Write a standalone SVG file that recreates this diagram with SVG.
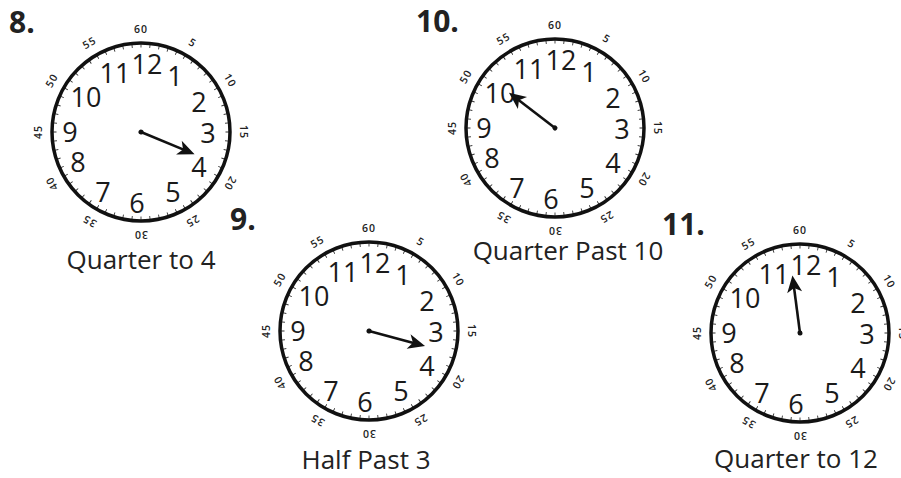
<svg xmlns="http://www.w3.org/2000/svg" xmlns:xlink="http://www.w3.org/1999/xlink" width="901" height="478" viewBox="0 0 901 478">
<style>
.rim{fill:none;stroke:#111;stroke-width:3.5}
.ticks{fill:none;stroke:#333;stroke-width:4;stroke-dasharray:0.1 0.9;stroke-dashoffset:0.05}
.num{font-family:"Open Sans","Noto Sans",sans-serif;font-size:27px;fill:#1a1a1a;text-anchor:middle}
.min{font-family:"Open Sans","Noto Sans",sans-serif;font-size:10.5px;font-weight:600;fill:#222;text-anchor:middle;letter-spacing:1px}
.head{font-family:"Open Sans","Liberation Sans",sans-serif;font-weight:bold;font-size:30px;fill:#222}
.cap{font-family:"Open Sans","Noto Sans",sans-serif;font-size:26px;fill:#222;text-anchor:middle}
.hand{stroke:#111;stroke-width:2.6}
</style>
<defs>
<g id="hand"><line class="hand" x1="0" y1="0" x2="0" y2="-48"/><path d="M0,-58 L-7.5,-41 L0,-45.5 L7.5,-41 Z" fill="#111"/><circle r="2.5" fill="#111"/></g>
</defs>
<rect width="901" height="478" fill="#fff"/>

<g id="clock-8">
<text class="head" x="9" y="33">8.</text>
<g transform="translate(141,132)">
<circle class="ticks" r="86.5" pathLength="60"/>
<circle class="rim" r="89"/>
<text class="min" transform="rotate(0) translate(0,-103)" dy="0.35em">60</text>
<text class="min" transform="rotate(30) translate(0,-103)" dy="0.35em">5</text>
<text class="min" transform="rotate(60) translate(0,-103)" dy="0.35em">10</text>
<text class="min" transform="rotate(90) translate(0,-103)" dy="0.35em">15</text>
<text class="min" transform="rotate(120) translate(0,-103)" dy="0.35em">20</text>
<text class="min" transform="rotate(150) translate(0,-103)" dy="0.35em">25</text>
<text class="min" transform="rotate(180) translate(0,-103)" dy="0.35em">30</text>
<text class="min" transform="rotate(210) translate(0,-103)" dy="0.35em">35</text>
<text class="min" transform="rotate(240) translate(0,-103)" dy="0.35em">40</text>
<text class="min" transform="rotate(270) translate(0,-103)" dy="0.35em">45</text>
<text class="min" transform="rotate(300) translate(0,-103)" dy="0.35em">50</text>
<text class="min" transform="rotate(330) translate(0,-103)" dy="0.35em">55</text>
<text class="num" x="34" y="-46">1</text>
<text class="num" x="58" y="-20">2</text>
<text class="num" x="67" y="11">3</text>
<text class="num" x="58" y="45">4</text>
<text class="num" x="32" y="70">5</text>
<text class="num" x="-4" y="81">6</text>
<text class="num" x="-38" y="70">7</text>
<text class="num" x="-63" y="40">8</text>
<text class="num" x="-71" y="10">9</text>
<text class="num" x="-55" y="-25">10</text>
<text class="num" x="-26" y="-49">11</text>
<text class="num" x="6" y="-58">12</text>
<use xlink:href="#hand" href="#hand" transform="rotate(112.5)"/>
</g>
<text class="cap" x="141" y="269">Quarter to 4</text>
</g>

<g id="clock-10">
<text class="head" x="416" y="32">10.</text>
<g transform="translate(555,128)">
<circle class="ticks" r="86.5" pathLength="60"/>
<circle class="rim" r="89"/>
<text class="min" transform="rotate(0) translate(0,-103)" dy="0.35em">60</text>
<text class="min" transform="rotate(30) translate(0,-103)" dy="0.35em">5</text>
<text class="min" transform="rotate(60) translate(0,-103)" dy="0.35em">10</text>
<text class="min" transform="rotate(90) translate(0,-103)" dy="0.35em">15</text>
<text class="min" transform="rotate(120) translate(0,-103)" dy="0.35em">20</text>
<text class="min" transform="rotate(150) translate(0,-103)" dy="0.35em">25</text>
<text class="min" transform="rotate(180) translate(0,-103)" dy="0.35em">30</text>
<text class="min" transform="rotate(210) translate(0,-103)" dy="0.35em">35</text>
<text class="min" transform="rotate(240) translate(0,-103)" dy="0.35em">40</text>
<text class="min" transform="rotate(270) translate(0,-103)" dy="0.35em">45</text>
<text class="min" transform="rotate(300) translate(0,-103)" dy="0.35em">50</text>
<text class="min" transform="rotate(330) translate(0,-103)" dy="0.35em">55</text>
<text class="num" x="34" y="-46">1</text>
<text class="num" x="58" y="-20">2</text>
<text class="num" x="67" y="11">3</text>
<text class="num" x="58" y="45">4</text>
<text class="num" x="32" y="70">5</text>
<text class="num" x="-4" y="81">6</text>
<text class="num" x="-38" y="70">7</text>
<text class="num" x="-63" y="40">8</text>
<text class="num" x="-71" y="10">9</text>
<text class="num" x="-55" y="-25">10</text>
<text class="num" x="-26" y="-49">11</text>
<text class="num" x="6" y="-58">12</text>
<use xlink:href="#hand" href="#hand" transform="rotate(307.5)"/>
</g>
<text class="cap" x="568" y="260">Quarter Past 10</text>
</g>

<g id="clock-9">
<text class="head" x="230" y="230">9.</text>
<g transform="translate(369,331)">
<circle class="ticks" r="86.5" pathLength="60"/>
<circle class="rim" r="89"/>
<text class="min" transform="rotate(0) translate(0,-103)" dy="0.35em">60</text>
<text class="min" transform="rotate(30) translate(0,-103)" dy="0.35em">5</text>
<text class="min" transform="rotate(60) translate(0,-103)" dy="0.35em">10</text>
<text class="min" transform="rotate(90) translate(0,-103)" dy="0.35em">15</text>
<text class="min" transform="rotate(120) translate(0,-103)" dy="0.35em">20</text>
<text class="min" transform="rotate(150) translate(0,-103)" dy="0.35em">25</text>
<text class="min" transform="rotate(180) translate(0,-103)" dy="0.35em">30</text>
<text class="min" transform="rotate(210) translate(0,-103)" dy="0.35em">35</text>
<text class="min" transform="rotate(240) translate(0,-103)" dy="0.35em">40</text>
<text class="min" transform="rotate(270) translate(0,-103)" dy="0.35em">45</text>
<text class="min" transform="rotate(300) translate(0,-103)" dy="0.35em">50</text>
<text class="min" transform="rotate(330) translate(0,-103)" dy="0.35em">55</text>
<text class="num" x="34" y="-46">1</text>
<text class="num" x="58" y="-20">2</text>
<text class="num" x="67" y="11">3</text>
<text class="num" x="58" y="45">4</text>
<text class="num" x="32" y="70">5</text>
<text class="num" x="-4" y="81">6</text>
<text class="num" x="-38" y="70">7</text>
<text class="num" x="-63" y="40">8</text>
<text class="num" x="-71" y="10">9</text>
<text class="num" x="-55" y="-25">10</text>
<text class="num" x="-26" y="-49">11</text>
<text class="num" x="6" y="-58">12</text>
<use xlink:href="#hand" href="#hand" transform="rotate(105)"/>
</g>
<text class="cap" x="366" y="469">Half Past 3</text>
</g>

<g id="clock-11">
<text class="head" x="662" y="235">11.</text>
<g transform="translate(800,333)">
<circle class="ticks" r="86.5" pathLength="60"/>
<circle class="rim" r="89"/>
<text class="min" transform="rotate(0) translate(0,-103)" dy="0.35em">60</text>
<text class="min" transform="rotate(30) translate(0,-103)" dy="0.35em">5</text>
<text class="min" transform="rotate(60) translate(0,-103)" dy="0.35em">10</text>
<text class="min" transform="rotate(90) translate(0,-103)" dy="0.35em">15</text>
<text class="min" transform="rotate(120) translate(0,-103)" dy="0.35em">20</text>
<text class="min" transform="rotate(150) translate(0,-103)" dy="0.35em">25</text>
<text class="min" transform="rotate(180) translate(0,-103)" dy="0.35em">30</text>
<text class="min" transform="rotate(210) translate(0,-103)" dy="0.35em">35</text>
<text class="min" transform="rotate(240) translate(0,-103)" dy="0.35em">40</text>
<text class="min" transform="rotate(270) translate(0,-103)" dy="0.35em">45</text>
<text class="min" transform="rotate(300) translate(0,-103)" dy="0.35em">50</text>
<text class="min" transform="rotate(330) translate(0,-103)" dy="0.35em">55</text>
<text class="num" x="34" y="-46">1</text>
<text class="num" x="58" y="-20">2</text>
<text class="num" x="67" y="11">3</text>
<text class="num" x="58" y="45">4</text>
<text class="num" x="32" y="70">5</text>
<text class="num" x="-4" y="81">6</text>
<text class="num" x="-38" y="70">7</text>
<text class="num" x="-63" y="40">8</text>
<text class="num" x="-71" y="10">9</text>
<text class="num" x="-55" y="-25">10</text>
<text class="num" x="-26" y="-49">11</text>
<text class="num" x="6" y="-58">12</text>
<use xlink:href="#hand" href="#hand" transform="rotate(352.5)"/>
</g>
<text class="cap" x="796" y="468">Quarter to 12</text>
</g>
</svg>
